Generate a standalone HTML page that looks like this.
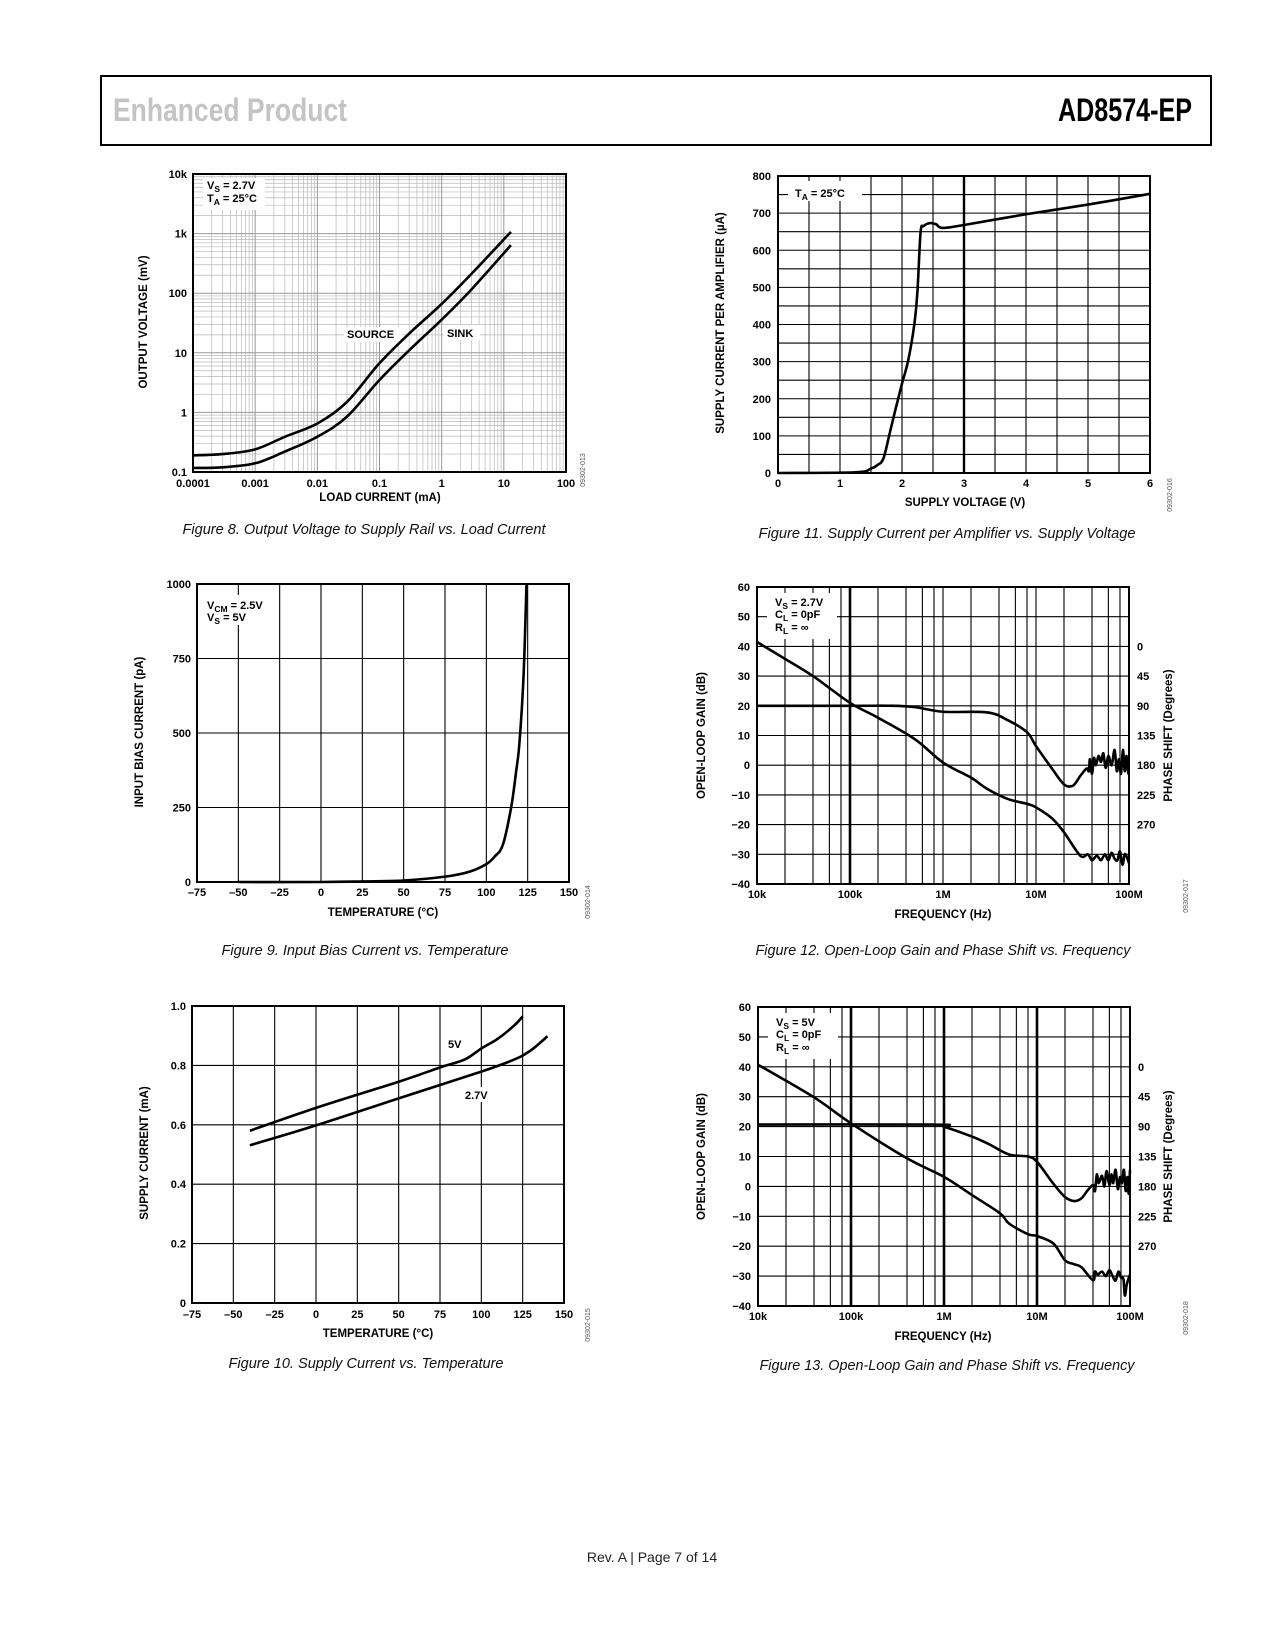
<!DOCTYPE html>
<html><head><meta charset="utf-8"><style>
html,body{margin:0;padding:0;background:#fff;}
svg{display:block;}
text{font-family:"Liberation Sans",Arial,sans-serif;}
.t{font-size:11px;font-weight:bold;fill:#000;}
.at{font-size:11.5px;font-weight:bold;fill:#000;}
.cap{font-size:15px;font-style:italic;fill:#111;}
.code{font-size:7px;fill:#555;}
</style></head><body>
<svg id="page" xmlns="http://www.w3.org/2000/svg" width="1275" height="1650" viewBox="0 0 1275 1650">
<rect x="0" y="0" width="1275" height="1650" fill="#fff"/>
<rect x="101" y="76" width="1110" height="69" fill="none" stroke="#000" stroke-width="2"/>
<text x="113" y="121" font-family="Liberation Sans Narrow, Liberation Sans, sans-serif" font-weight="bold" font-size="32" fill="#c4c4c4" textLength="234" lengthAdjust="spacingAndGlyphs">Enhanced Product</text>
<text x="1058" y="121" font-family="Liberation Sans Narrow, Liberation Sans, sans-serif" font-weight="bold" font-size="32" fill="#000" textLength="134" lengthAdjust="spacingAndGlyphs">AD8574-EP</text>
<text x="652" y="1562" text-anchor="middle" font-size="14" fill="#222">Rev. A | Page 7 of 14</text>

<text class="cap" x="364" y="534" text-anchor="middle" textLength="363" lengthAdjust="spacingAndGlyphs">Figure 8. Output Voltage to Supply Rail vs. Load Current</text>
<text class="cap" x="947" y="538" text-anchor="middle" textLength="377" lengthAdjust="spacingAndGlyphs">Figure 11. Supply Current per Amplifier vs. Supply Voltage</text>
<text class="cap" x="365" y="955" text-anchor="middle" textLength="287" lengthAdjust="spacingAndGlyphs">Figure 9. Input Bias Current vs. Temperature</text>
<text class="cap" x="943" y="955" text-anchor="middle" textLength="375" lengthAdjust="spacingAndGlyphs">Figure 12. Open-Loop Gain and Phase Shift vs. Frequency</text>
<text class="cap" x="366" y="1368" text-anchor="middle" textLength="275" lengthAdjust="spacingAndGlyphs">Figure 10. Supply Current vs. Temperature</text>
<text class="cap" x="947" y="1370" text-anchor="middle" textLength="375" lengthAdjust="spacingAndGlyphs">Figure 13. Open-Loop Gain and Phase Shift vs. Frequency</text>
</svg>
<script>
// ---------- Figure 8 data ----------
const f8Current = [1e-4, 3e-4, 1e-3, 3e-3, 0.01, 0.03, 0.1, 0.3, 1, 3, 13];
const f8Source = [0.19, 0.2, 0.24, 0.39, 0.65, 1.5, 6.7, 21, 66, 210, 1070];
const f8Sink = [0.117, 0.12, 0.14, 0.22, 0.39, 0.85, 3.5, 11, 36, 115, 640];
const f8XTicks = [1e-4, 1e-3, 0.01, 0.1, 1, 10, 100];
const f8XLabels = ["0.0001", "0.001", "0.01", "0.1", "1", "10", "100"];
const f8YTicks = [0.1, 1, 10, 100, 1000, 10000];
const f8YLabels = ["0.1", "1", "10", "100", "1k", "10k"];
// ---------- Figure 11 data ----------
const f11Voltage = [0, 1.25, 1.5, 1.6, 1.7, 1.8, 1.9, 2.0, 2.1, 2.2, 2.25, 2.3, 2.35, 2.45, 2.55, 2.65, 3, 4, 5, 6];
const f11Current = [0, 2, 12, 21, 39, 106, 175, 241, 303, 402, 492, 649, 665, 673, 670, 660, 668, 697, 723, 752];
const f11XTicks = [0, 1, 2, 3, 4, 5, 6];
const f11YTicks = [0, 100, 200, 300, 400, 500, 600, 700, 800];
// ---------- Figure 9 data ----------
const f9Temp = [-50, 0, 25, 50, 75, 90, 100, 105, 110, 115, 118, 120, 122.5, 124.3];
const f9Bias = [0, 0, 2, 5, 18, 35, 60, 85, 125, 250, 370, 465, 690, 1000];
const f9XTicks = [-75, -50, -25, 0, 25, 50, 75, 100, 125, 150];
const f9YTicks = [0, 250, 500, 750, 1000];
// ---------- Figure 10 data ----------
const f10Temp5 = [-40, 0, 50, 75, 90, 100, 110, 120, 125];
const f10Cur5 = [0.58, 0.657, 0.745, 0.793, 0.82, 0.857, 0.89, 0.935, 0.965];
const f10Temp27 = [-40, 0, 50, 100, 120, 130, 140];
const f10Cur27 = [0.531, 0.598, 0.689, 0.779, 0.82, 0.851, 0.898];
const f10XTicks = [-75, -50, -25, 0, 25, 50, 75, 100, 125, 150];
const f10YTicks = [0, 0.2, 0.4, 0.6, 0.8, 1.0];
const f10YLabels = ["0", "0.2", "0.4", "0.6", "0.8", "1.0"];
// ---------- Figure 12 data ----------
const f12GainFreq = [1e4,2e4,4e4,1e5,2e5,5e5,1e6,2e6,3e6,5e6,8e6,1e7,1.5e7,2e7,3e7,3.6e7,4e7,4.5e7,5e7,5.5e7,6e7,6.5e7,7e7,7.5e7,8e7,8.5e7,9e7,9.5e7,1e8];
const f12Gain = [41.5,35.8,30,21,16,8.7,0.9,-4.2,-8,-11.4,-13,-14.2,-18,-22.6,-30.5,-30,-32,-30.5,-32,-30,-32,-29.5,-31.5,-32,-29,-33.5,-30,-31,-33];
const f12PhaseFreq = [1e4,1e5,3e5,5e5,1e6,3e6,5e6,8e6,1e7,1.5e7,2e7,2.5e7,3e7,3.5e7,3.7e7,3.8e7,4e7,4.2e7,4.4e7,4.7e7,5e7,5.3e7,5.6e7,6e7,6.5e7,7e7,7.4e7,7.8e7,8.2e7,8.6e7,9e7,9.4e7,9.8e7,1e8];
const f12Phase = [90,90,90,92,99,100,112,130,151,186,209,211,196,185,189,171,193,169,180,166,175,162,184,166,180,157,189,171,193,157,189,166,191,191];
// ---------- Figure 13 data ----------
const f13GainFreq = [1e4,4e4,1e5,4e5,1e6,2e6,4e6,5e6,8e6,1e7,1.5e7,2e7,2.5e7,3e7,4e7,4.2e7,4.5e7,5e7,5.5e7,6e7,6.5e7,7e7,7.5e7,8e7,8.5e7,8.8e7,9.2e7,9.6e7,1e8];
const f13Gain = [40.7,29.8,21.1,9.4,3.2,-2.9,-9,-12.4,-16,-16.6,-19.1,-24.7,-26,-27,-31.4,-28.5,-29.5,-28.5,-30,-28,-30,-31.5,-28.5,-30.5,-31,-36.5,-33,-31,-29.5];
const f13PhaseFreq = [1e4,8e5,1e6,2e6,3e6,5e6,8e6,1e7,1.5e7,2e7,2.5e7,3e7,3.5e7,4e7,4.2e7,4.4e7,4.6e7,5e7,5.3e7,5.6e7,6e7,6.3e7,6.6e7,7e7,7.4e7,7.8e7,8.2e7,8.6e7,9e7,9.4e7,9.7e7,1e8];
const f13Phase = [87,87,90,105,116,132,135,143,176,196,202,198,186,178,187,162,175,164,180,157,178,162,175,155,184,166,175,155,187,166,191,155];
// shared open-loop axes
const olFreqTicks = [1e4, 1e5, 1e6, 1e7, 1e8];
const olFreqLabels = ["10k", "100k", "1M", "10M", "100M"];
const olGainTicks = [-40, -30, -20, -10, 0, 10, 20, 30, 40, 50, 60];
const olGainLabels = ["\u221240", "\u221230", "\u221220", "\u221210", "0", "10", "20", "30", "40", "50", "60"];
const olPhaseTicks = [0, 45, 90, 135, 180, 225, 270];

const NS = "http://www.w3.org/2000/svg";
const svg = document.getElementById('page');
function mk(tag, attrs, parent) {
  const e = document.createElementNS(NS, tag);
  for (const k in attrs) e.setAttribute(k, attrs[k]);
  (parent || svg).appendChild(e);
  return e;
}
function nm(e, name) {
  
  
  return e;
}
function lin(d0, d1, r0, r1) { return v => r0 + (v - d0) / (d1 - d0) * (r1 - r0); }
function lg(d0, d1, r0, r1) { const a = Math.log10(d0), b = Math.log10(d1); return v => r0 + (Math.log10(v) - a) / (b - a) * (r1 - r0); }
function smooth(pts) {
  let d = 'M' + pts[0][0].toFixed(2) + ',' + pts[0][1].toFixed(2);
  for (let i = 0; i < pts.length - 1; i++) {
    const p0 = pts[i - 1] || pts[i], p1 = pts[i], p2 = pts[i + 1], p3 = pts[i + 2] || p2;
    const c1x = p1[0] + (p2[0] - p0[0]) / 6, c1y = p1[1] + (p2[1] - p0[1]) / 6;
    const c2x = p2[0] - (p3[0] - p1[0]) / 6, c2y = p2[1] - (p3[1] - p1[1]) / 6;
    d += 'C' + c1x.toFixed(2) + ',' + c1y.toFixed(2) + ' ' + c2x.toFixed(2) + ',' + c2y.toFixed(2) + ' ' + p2[0].toFixed(2) + ',' + p2[1].toFixed(2);
  }
  return d;
}
function series(g, xs, ys, sx, sy, name, w) {
  const pts = xs.map((x, i) => [sx(x), sy(ys[i])]);
  const p = mk('path', {d: smooth(pts), fill: 'none', stroke: '#000', 'stroke-width': w || 2.6, 'stroke-linejoin': 'round', 'stroke-linecap': 'butt'}, g);
  nm(p, name);
  return p;
}
function vline(g, x, y0, y1, w, col, name) { const l = mk('line', {x1: x, x2: x, y1: y0, y2: y1, stroke: col, 'stroke-width': w}, g); nm(l, name); }
function hline(g, y, x0, x1, w, col, name) { const l = mk('line', {x1: x0, x2: x1, y1: y, y2: y, stroke: col, 'stroke-width': w}, g); nm(l, name); }
function txt(g, x, y, s, cls, anchor, name) {
  const t = mk('text', {x: x, y: y, 'class': cls, 'text-anchor': anchor || 'start'}, g);
  t.textContent = s;
  nm(t, name);
  return t;
}
function rtxt(g, x, y, s, cls, name) {
  const t = mk('text', {x: 0, y: 0, 'class': cls, 'text-anchor': 'middle', transform: 'translate(' + x + ',' + y + ') rotate(-90)'}, g);
  t.textContent = s;
  nm(t, name);
  return t;
}
function frame(g, L, T, R, B) { const r = mk('rect', {x: L, y: T, width: R - L, height: B - T, fill: 'none', stroke: '#000', 'stroke-width': 2}, g); nm(r, 'plot-frame'); }
function wbox(g, x, y, w, h, name) { const r = mk('rect', {x: x, y: y, width: w, height: h, fill: '#fff'}, g); nm(r, name); }
function subText(g, x, y, main, sub, rest, name) {
  const t = mk('text', {x: x, y: y, 'class': 't'}, g);
  nm(t, name);
  const a = mk('tspan', {}, t); a.textContent = main;
  const b = mk('tspan', {dy: 3, 'font-size': 8.5}, t); b.textContent = sub;
  const c = mk('tspan', {dy: -3}, t); c.textContent = rest;
}

// ================= Figure 8 =================
(function () {
  const L = 193, T = 174, R = 566, B = 472;
  const sx = lg(1e-4, 100, L, R), sy = lg(0.1, 1e4, B, T);
  const g = mk('g', {}); nm(g, 'figure-8-chart');
  for (let d = -4; d < 2; d++) for (let m = 2; m <= 9; m++) vline(g, sx(m * Math.pow(10, d)), T, B, 0.7, '#b8b8b8', 'x-minor-gridline');
  for (let d = -1; d < 4; d++) for (let m = 2; m <= 9; m++) hline(g, sy(m * Math.pow(10, d)), L, R, 0.7, '#b8b8b8', 'y-minor-gridline');
  f8XTicks.forEach(v => vline(g, sx(v), T, B, 1, '#999', 'x-major-gridline'));
  f8YTicks.forEach(v => hline(g, sy(v), L, R, 1, '#999', 'y-major-gridline'));
  wbox(g, 203, 178, 62, 32, 'legend-box');
  subText(g, 207, 189, 'V', 'S', ' = 2.7V', 'legend-vs');
  subText(g, 207, 202, 'T', 'A', ' = 25\u00b0C', 'legend-ta');
  wbox(g, 344, 327, 58, 15, 'source-label-bg');
  wbox(g, 444, 325, 36, 15, 'sink-label-bg');
  txt(g, 347, 338, 'SOURCE', 't', 'start', 'source-label');
  txt(g, 447, 337, 'SINK', 't', 'start', 'sink-label');
  series(g, f8Current, f8Source, sx, sy, 'source-curve');
  series(g, f8Current, f8Sink, sx, sy, 'sink-curve');
  frame(g, L, T, R, B);
  f8XTicks.forEach((v, i) => txt(g, sx(v), 487, f8XLabels[i], 't', 'middle', 'x-tick-label'));
  f8YTicks.forEach((v, i) => txt(g, 187, sy(v) + 4, f8YLabels[i], 't', 'end', 'y-tick-label'));
  txt(g, 380, 501, 'LOAD CURRENT (mA)', 'at', 'middle', 'x-axis-title');
  rtxt(g, 147, 322, 'OUTPUT VOLTAGE (mV)', 'at', 'y-axis-title');
  rtxt(g, 585, 470, '09302-013', 'code', 'figure-code');
})();

// ================= Figure 11 =================
(function () {
  const L = 778, T = 176, R = 1150, B = 473;
  const sx = lin(0, 6, L, R), sy = lin(0, 800, B, T);
  const g = mk('g', {}); nm(g, 'figure-11-chart');
  for (let v = 0.5; v < 6; v += 0.5) vline(g, sx(v), T, B, v === 3 ? 2.4 : 1.1, '#000', 'x-gridline');
  for (let v = 50; v < 800; v += 50) hline(g, sy(v), L, R, 1.1, '#000', 'y-gridline');
  wbox(g, 788, 181, 74, 20, 'legend-box');
  subText(g, 795, 197, 'T', 'A', ' = 25\u00b0C', 'legend-ta');
  series(g, f11Voltage, f11Current, sx, sy, 'supply-current-curve');
  frame(g, L, T, R, B);
  f11XTicks.forEach(v => txt(g, sx(v), 487, String(v), 't', 'middle', 'x-tick-label'));
  f11YTicks.forEach(v => txt(g, 771, sy(v) + 4, String(v), 't', 'end', 'y-tick-label'));
  txt(g, 965, 506, 'SUPPLY VOLTAGE (V)', 'at', 'middle', 'x-axis-title');
  rtxt(g, 724, 323, 'SUPPLY CURRENT PER AMPLIFIER (\u00b5A)', 'at', 'y-axis-title');
  rtxt(g, 1172, 495, '09302-016', 'code', 'figure-code');
})();

// ================= Figure 9 =================
(function () {
  const L = 197, T = 584, R = 569, B = 882;
  const sx = lin(-75, 150, L, R), sy = lin(0, 1000, B, T);
  const g = mk('g', {}); nm(g, 'figure-9-chart');
  f9XTicks.slice(1, -1).forEach(v => vline(g, sx(v), T, B, 1.1, '#000', 'x-gridline'));
  f9YTicks.slice(1, -1).forEach(v => hline(g, sy(v), L, R, 1.1, '#000', 'y-gridline'));
  wbox(g, 203, 595, 65, 30, 'legend-box');
  subText(g, 207, 609, 'V', 'CM', ' = 2.5V', 'legend-vcm');
  subText(g, 207, 621, 'V', 'S', ' = 5V', 'legend-vs');
  series(g, f9Temp, f9Bias, sx, sy, 'bias-current-curve');
  frame(g, L, T, R, B);
  f9XTicks.forEach(v => txt(g, sx(v), 896, (v < 0 ? '\u2013' + (-v) : String(v)), 't', 'middle', 'x-tick-label'));
  f9YTicks.forEach(v => txt(g, 191, sy(v) + 4, String(v), 't', 'end', 'y-tick-label'));
  txt(g, 383, 916, 'TEMPERATURE (\u00b0C)', 'at', 'middle', 'x-axis-title');
  rtxt(g, 143, 732, 'INPUT BIAS CURRENT (pA)', 'at', 'y-axis-title');
  rtxt(g, 590, 902, '09302-014', 'code', 'figure-code');
})();

// ================= Figure 10 =================
(function () {
  const L = 192, T = 1006, R = 564, B = 1303;
  const sx = lin(-75, 150, L, R), sy = lin(0, 1, B, T);
  const g = mk('g', {}); nm(g, 'figure-10-chart');
  f10XTicks.slice(1, -1).forEach(v => vline(g, sx(v), T, B, 1.1, '#000', 'x-gridline'));
  f10YTicks.slice(1, -1).forEach(v => hline(g, sy(v), L, R, 1.1, '#000', 'y-gridline'));
  wbox(g, 462, 1087, 29, 15, 'label-2-7v-bg');
  txt(g, 448, 1048, '5V', 't', 'start', 'label-5v');
  txt(g, 465, 1099, '2.7V', 't', 'start', 'label-2-7v');
  series(g, f10Temp5, f10Cur5, sx, sy, 'curve-5v');
  series(g, f10Temp27, f10Cur27, sx, sy, 'curve-2-7v');
  frame(g, L, T, R, B);
  f10XTicks.forEach(v => txt(g, sx(v), 1318, (v < 0 ? '\u2013' + (-v) : String(v)), 't', 'middle', 'x-tick-label'));
  f10YTicks.forEach((v, i) => txt(g, 186, sy(v) + 4, f10YLabels[i], 't', 'end', 'y-tick-label'));
  txt(g, 378, 1337, 'TEMPERATURE (\u00b0C)', 'at', 'middle', 'x-axis-title');
  rtxt(g, 148, 1153, 'SUPPLY CURRENT (mA)', 'at', 'y-axis-title');
  rtxt(g, 590, 1325, '09302-015', 'code', 'figure-code');
})();

// ================= Open loop charts =================
function openLoop(id, L, T, R, B, gf, gv, pf, pv, vsText, thick, code) {
  const sx = lg(1e4, 1e8, L, R), sy = lin(-40, 60, B, T);
  const sp = p => sy(40 - p / 4.5);
  const g = mk('g', {}); nm(g, id + '-chart');
  for (let d = 4; d < 8; d++) [2, 4, 6, 8, 10].forEach(m => {
    const f = m * Math.pow(10, d);
    if (f >= 1e8) return;
    vline(g, sx(f), T, B, thick.indexOf(f) >= 0 ? 2.6 : 1.1, '#000', 'x-gridline');
  });
  olGainTicks.slice(1, -1).forEach(v => hline(g, sy(v), L, R, 1.1, '#000', 'y-gridline'));
  wbox(g, L + 10, T + 6, 70, 46, 'legend-box');
  subText(g, L + 18, T + 19, 'V', 'S', ' = ' + vsText, 'legend-vs');
  subText(g, L + 18, T + 31, 'C', 'L', ' = 0pF', 'legend-cl');
  subText(g, L + 18, T + 44, 'R', 'L', ' = \u221e', 'legend-rl');
  series(g, gf, gv, sx, sy, 'gain-curve');
  series(g, pf, pv.map(p => p), sx, v => sp(v), 'phase-curve');
  frame(g, L, T, R, B);
  olFreqTicks.forEach((v, i) => txt(g, sx(v), B + 14, olFreqLabels[i], 't', 'middle', 'x-tick-label'));
  olGainTicks.forEach((v, i) => txt(g, L - 7, sy(v) + 4, olGainLabels[i], 't', 'end', 'gain-tick-label'));
  olPhaseTicks.forEach(v => txt(g, R + 8, sp(v) + 4, String(v), 't', 'start', 'phase-tick-label'));
  txt(g, 943, B + 34, 'FREQUENCY (Hz)', 'at', 'middle', 'x-axis-title');
  rtxt(g, 705, (T + B) / 2, 'OPEN-LOOP GAIN (dB)', 'at', 'gain-axis-title');
  rtxt(g, 1172, (T + B) / 2, 'PHASE SHIFT (Degrees)', 'at', 'phase-axis-title');
  rtxt(g, 1188, B + 12, code, 'code', 'figure-code');
}
openLoop('figure-12', 757, 587, 1129, 884, f12GainFreq, f12Gain, f12PhaseFreq, f12Phase, '2.7V', [1e5], '09302-017');
openLoop('figure-13', 758, 1007, 1130, 1306, f13GainFreq, f13Gain, f13PhaseFreq, f13Phase, '5V', [1e5, 1e6, 1e7], '09302-018');
</script>
</body></html>
